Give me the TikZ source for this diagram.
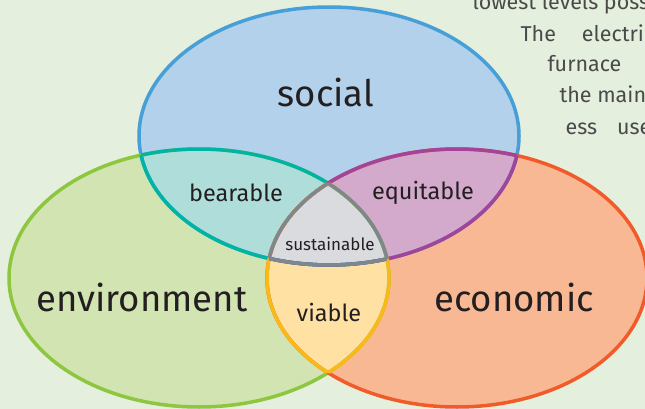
\documentclass[tikz,border=0pt]{standalone}
\usepackage{fontspec}
\setmainfont{Fira Sans}
\definecolor{bg}{HTML}{E4EFDD}
\definecolor{ink}{HTML}{231F20}
\definecolor{pagetext}{HTML}{4A4A4A}
\definecolor{socfill}{HTML}{B3D1EB}
\definecolor{socline}{HTML}{479FD8}
\definecolor{envfill}{HTML}{D1E4B1}
\definecolor{envline}{HTML}{8DC63F}
\definecolor{ecofill}{HTML}{F9B894}
\definecolor{ecoline}{HTML}{F15A29}
\definecolor{bearfill}{HTML}{AFDEDA}
\definecolor{bearline}{HTML}{00B4A5}
\definecolor{equifill}{HTML}{D3A9CC}
\definecolor{equiline}{HTML}{A1449A}
\definecolor{viafill}{HTML}{FFE1A3}
\definecolor{vialine}{HTML}{FBB917}
\definecolor{susfill}{HTML}{DADBDF}
\definecolor{susline}{HTML}{7D878E}
\begin{document}
\begin{tikzpicture}[x=1pt,y=-1pt,
	rim/.style={line width=3.5pt},
	big/.style={text=ink, font=\fontsize{36.5}{40}\selectfont},
	mid/.style={text=ink, font=\fontsize{23.5}{28}\selectfont},
	small/.style={text=ink, font=\fontsize{17}{20}\selectfont},
	page/.style={anchor=base west, text=pagetext, font=\fontsize{21.5}{26}\selectfont}]
		\def\social{(329,136) ellipse [x radius=190pt, y radius=129pt]}
		\def\environment{(199,278) ellipse [x radius=190pt, y radius=129pt]}
		\def\economic{(457,278) ellipse [x radius=190pt, y radius=129pt]}

		\useasboundingbox (0,0) rectangle (645,409);
		\clip (0,0) rectangle (645,409);
		\fill[bg] (0,0) rectangle (645,409);

		% text of the page behind
		\node[page] (line1) at (469,10) {lowest levels possible};
		\node[page] (line2) at (517,42) {The\hspace{26pt}electric};
		\node[page] (line3) at (544,72) {furnace};
		\node[page] (line4) at (556,103) {the main};
		\node[page] (line5) at (562,135) {ess\hspace{20pt}used};

		% fills
		\fill[socfill] \social;
		\fill[envfill] \environment;
		\fill[ecofill] \economic;
		\begin{scope} \clip \social; \fill[bearfill] \environment; \fill[equifill] \economic; \end{scope}
		\begin{scope} \clip \environment; \fill[viafill] \economic; \end{scope}
		\begin{scope} \clip \social; \clip \environment; \fill[susfill] \economic; \end{scope}

		% borders
		\draw[rim, socline] \social;
		\draw[rim, envline] \environment;
		\draw[rim, ecoline] \economic;
		\begin{scope} \clip \social; \draw[rim, bearline] \environment; \draw[rim, equiline] \economic; \end{scope}
		\begin{scope} \clip \environment; \draw[rim, bearline] \social; \draw[rim, vialine] \economic; \end{scope}
		\begin{scope} \clip \economic; \draw[rim, equiline] \social; \draw[rim, vialine] \environment; \end{scope}
		\begin{scope} \clip \social; \clip \environment; \draw[rim, susline] \economic; \end{scope}
		\begin{scope} \clip \social; \clip \economic; \draw[rim, susline] \environment; \end{scope}
		\begin{scope} \clip \environment; \clip \economic; \draw[rim, susline] \social; \end{scope}

		% labels
		\node[big] (soc) at (326,92) {social};
		\node[big] (env) at (142,297) {environment};
		\node[big] (eco) at (514,297) {economic};
		\node[mid] (bear) at (236,193) {bearable};
		\node[mid] (equi) at (423,193) {equitable};
		\node[mid] (via) at (329,312) {viable};
		\node[small] (sus) at (330,244) {sustainable};
	\end{tikzpicture}
\end{document}
